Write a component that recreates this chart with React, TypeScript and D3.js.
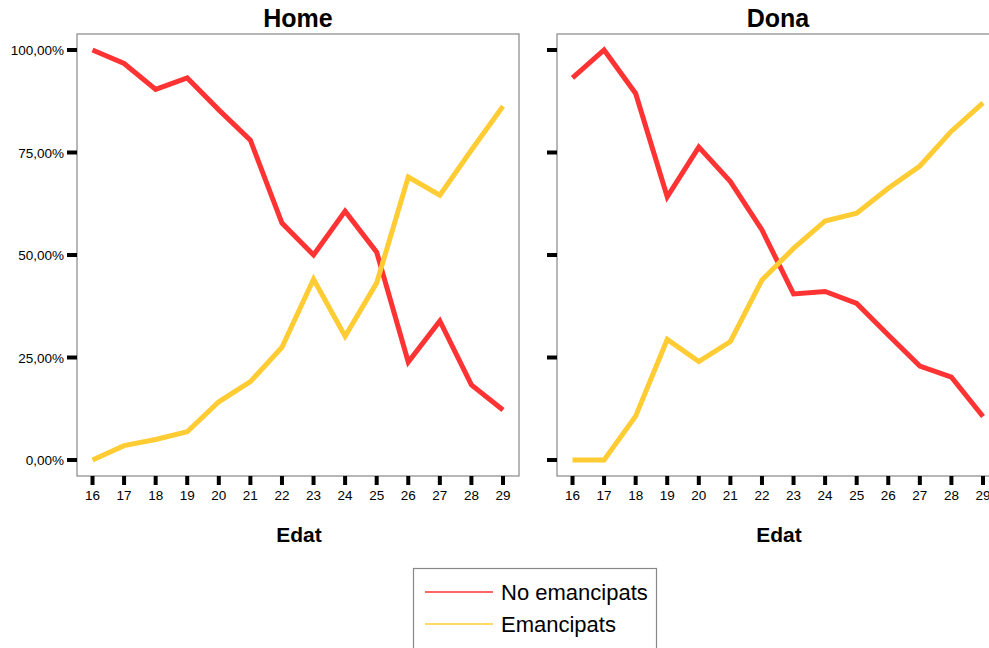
import React from "react";
import * as d3 from "d3";

const ages = [16, 17, 18, 19, 20, 21, 22, 23, 24, 25, 26, 27, 28, 29];
const homeNo = [100, 96.7, 90.4, 93.2, 85.4, 78.0, 57.8, 50.0, 60.7, 50.7, 23.9, 33.9, 18.3, 12.2];
const homeEm = [0, 3.5, 5.0, 6.9, 14.2, 19.1, 27.5, 44.1, 30.2, 43.2, 69.0, 64.6, 75.6, 86.3];
const donaNo = [93.2, 100, 89.4, 64.2, 76.3, 67.9, 56.1, 40.5, 41.1, 38.2, 30.5, 22.9, 20.2, 10.6];
const donaEm = [0, 0, 10.7, 29.4, 24.0, 28.9, 43.9, 51.6, 58.3, 60.2, 66.3, 71.7, 80.2, 87.1];
const yTicks = [0, 25, 50, 75, 100];
const panelTitles = ["Home", "Dona"];
const seriesNames = ["No emancipats", "Emancipats"];
const colors = ["#ff3333", "#ffcc33"];

const FONT = "Liberation Sans, Arial, sans-serif";

function Panel({ left, title, no, em, showLabels }: any) {
  const frameL = left;
  const frameR = left + 442;
  const frameT = 34;
  const frameB = 476;
  const x = d3.scaleLinear().domain([16, 29]).range([frameL + 15.5, frameL + 426]);
  const y = d3.scaleLinear().domain([0, 100]).range([460, 50]);
  const line = d3
    .line<number>()
    .x((_, i) => x(ages[i]))
    .y((d) => y(d));
  const cx = (frameL + frameR) / 2;
  return (
    <g>
      <text x={cx} y={27} textAnchor="middle" fontFamily={FONT} fontWeight="bold" fontSize={25}>
        {title}
      </text>
      <rect x={frameL} y={frameT} width={frameR - frameL} height={frameB - frameT} fill="none" stroke="#888" strokeWidth={1.2} />
      {yTicks.map((t) => (
        <g key={t}>
          <line x1={frameL - 10} x2={frameL} y1={y(t)} y2={y(t)} stroke="#000" strokeWidth={4} />
          {showLabels && (
            <text x={frameL - 13} y={y(t) + 5} textAnchor="end" fontFamily={FONT} fontSize={13.5}>
              {d3.format(".2f")(t).replace(".", ",") + "%"}
            </text>
          )}
        </g>
      ))}
      {ages.map((a) => (
        <g key={a}>
          <line x1={x(a)} x2={x(a)} y1={frameB} y2={frameB + 9} stroke="#000" strokeWidth={4} />
          <text x={x(a)} y={frameB + 24} textAnchor="middle" fontFamily={FONT} fontSize={13.5}>
            {a}
          </text>
        </g>
      ))}
      <text x={cx + 1} y={542} textAnchor="middle" fontFamily={FONT} fontWeight="bold" fontSize={21}>
        Edat
      </text>
      <path d={line(no) || ""} fill="none" stroke={colors[0]} strokeWidth={5} strokeLinejoin="miter" />
      <path d={line(em) || ""} fill="none" stroke={colors[1]} strokeWidth={5} strokeLinejoin="miter" />
    </g>
  );
}

export default function App() {
  return (
    <div style={{ position: "absolute", left: 0, top: 0 }}>
      <svg width={989} height={648} style={{ display: "block", background: "#fff" }}>
        <Panel left={77} title={panelTitles[0]} no={homeNo} em={homeEm} showLabels={true} />
        <Panel left={557} title={panelTitles[1]} no={donaNo} em={donaEm} showLabels={false} />
        <rect x={413.5} y={568.5} width={243} height={90} fill="none" stroke="#888" strokeWidth={1.2} />
        {seriesNames.map((s, i) => (
          <g key={s}>
            <line x1={425} x2={493} y1={592 + i * 32} y2={592 + i * 32} stroke={colors[i]} strokeWidth={1.5} />
            <text x={501} y={600 + i * 32} fontFamily={FONT} fontSize={22}>
              {s}
            </text>
          </g>
        ))}
      </svg>
    </div>
  );
}
